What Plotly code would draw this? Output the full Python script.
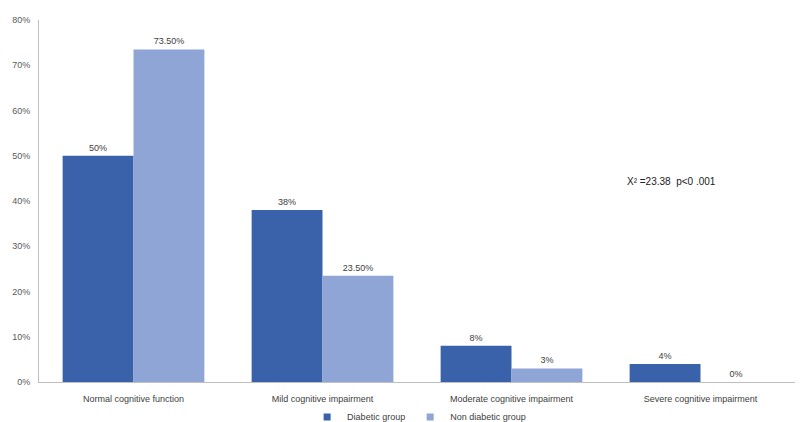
import plotly.graph_objects as go

categories = ["Normal cognitive function", "Mild cognitive impairment",
              "Moderate cognitive impairment", "Severe cognitive impairment"]
diabetic = [50, 38, 8, 4]
non_diabetic = [73.5, 23.5, 3, 0]
diabetic_labels = ["50%", "38%", "8%", "4%"]
non_diabetic_labels = ["73.50%", "23.50%", "3%", "0%"]
y_ticks = [0, 10, 20, 30, 40, 50, 60, 70, 80]
y_tick_labels = ["0%", "10%", "20%", "30%", "40%", "50%", "60%", "70%", "80%"]

font = "Liberation Sans, Arial, sans-serif"
tcol = "#404040"
c_dark = "#3A62AA"
c_light = "#8FA5D6"

fig = go.Figure()
fig.add_trace(go.Bar(x=categories, y=diabetic, name="Diabetic group", showlegend=False,
                     marker=dict(color=c_dark, line=dict(width=0)),
                     text=diabetic_labels, textposition="outside",
                     textfont=dict(size=9, color=tcol, family=font), cliponaxis=False))
fig.add_trace(go.Bar(x=categories, y=non_diabetic, name="Non diabetic group", showlegend=False,
                     marker=dict(color=c_light, line=dict(width=0)),
                     text=non_diabetic_labels, textposition="outside",
                     textfont=dict(size=9, color=tcol, family=font), cliponaxis=False))
# legend entries with small square symbols
fig.add_trace(go.Scatter(x=[categories[0]], y=[None], mode="markers", name="Diabetic group",
                         marker=dict(symbol="square", size=7, color=c_dark)))
fig.add_trace(go.Scatter(x=[categories[0]], y=[None], mode="markers", name="Non diabetic group",
                         marker=dict(symbol="square", size=7, color=c_light)))

fig.add_annotation(x=0.837, y=44.2, xref="paper", yref="y", text="X² =23.38  p<0 .001",
                   showarrow=False, font=dict(size=10, color="#202020", family=font),
                   xanchor="center", yanchor="middle")

fig.update_layout(
    width=806, height=422, margin=dict(l=39, r=11, t=20, b=40, autoexpand=False),
    paper_bgcolor="white", plot_bgcolor="white",
    barmode="group", bargap=0.25, bargroupgap=0,
    font=dict(family=font, size=9, color=tcol),
    legend=dict(orientation="h", x=0.52, xanchor="center", y=0.012, yanchor="middle",
                yref="container", xref="container",
                font=dict(size=9, color=tcol), itemwidth=30, traceorder="normal",
                bgcolor="rgba(0,0,0,0)"),
    xaxis=dict(showline=True, linecolor="#BFBFBF", linewidth=1, ticks="", automargin=False,
               ticklabelstandoff=8,
               tickfont=dict(size=9, color=tcol), showgrid=False),
    yaxis=dict(range=[0, 80], tickvals=y_ticks, ticktext=y_tick_labels, automargin=False,
               ticklabelstandoff=6,
               showline=True, linecolor="#BFBFBF", linewidth=1, ticks="",
               showgrid=False, zeroline=False, tickfont=dict(size=9, color="#595959")),
)

fig.write_html("out.html")
